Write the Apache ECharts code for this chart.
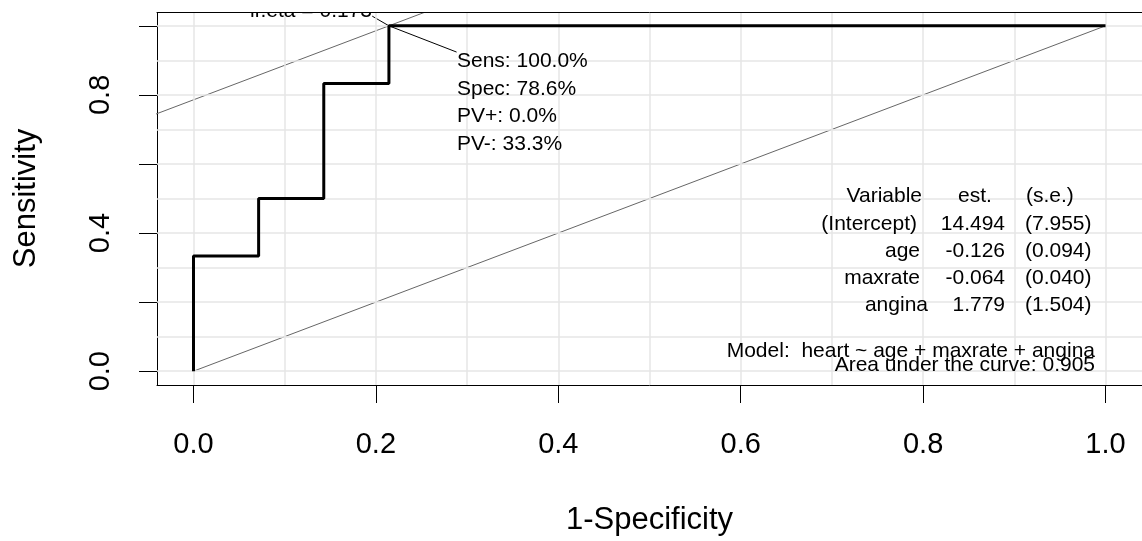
<!DOCTYPE html>
<html>
<head>
<meta charset="utf-8">
<title>ROC</title>
<script src="https://cdn.jsdelivr.net/npm/echarts@6/dist/echarts.min.js"></script>
<style>
html, body { margin: 0; padding: 0; background: #fff; }
#roc { width: 1142px; height: 541px; }
</style>
</head>
<body>
<div id="roc"></div>
<script>
// ROC points (1-specificity, sensitivity)
var fpr = [0, 0, 1/14, 1/14, 2/14, 2/14, 3/14, 3/14, 1];
var sens = [0, 1/3, 1/3, 1/2, 1/2, 5/6, 5/6, 1, 1];
var optimum = [3/14, 1];

var xTicks = [0, 0.2, 0.4, 0.6, 0.8, 1.0];
var yTicks = [0, 0.2, 0.4, 0.6, 0.8, 1.0];
var yTickLabels = [0, 0.4, 0.8];
var gridValues = [0, 0.1, 0.2, 0.3, 0.4, 0.5, 0.6, 0.7, 0.8, 0.9, 1.0];

var etaText = 'lr.eta = 0.173';
var optText = ['Sens: 100.0%', 'Spec: 78.6%', 'PV+: 0.0%', 'PV-: 33.3%'];
var tableHead = ['Variable', 'est.', '(s.e.)'];
var tableVars = ['(Intercept)', 'age', 'maxrate', 'angina'];
var tableEst = ['14.494', '-0.126', '-0.064', '1.779'];
var tableSe = ['(7.955)', '(0.094)', '(0.040)', '(1.504)'];
var modelText = 'Model:  heart ~ age + maxrate + angina';
var aucText = 'Area under the curve: 0.905';

(function () {
  var dom = document.getElementById('roc');
  var myChart = echarts.init(dom);
  var FONT = '"Liberation Sans", Arial, sans-serif';

  // leader line ends (data coords) for the two labels at the optimal point
  var etaEnd = [0.196, 1.028];
  var sensEnd = [0.2885, 0.924];

  var roc = fpr.map(function (x, i) { return [x, sens[i]]; });
  // slope 1 line through the optimum, clipped by the grid
  var c = optimum[1] - optimum[0];
  var tangent = [[-0.2, -0.2 + c], [0.4, 0.4 + c]];

  function txt(s, x, y, align) {
    return {
      type: 'text', x: x, y: y, z: 20,
      style: {
        text: s, font: '21px ' + FONT, fill: '#000',
        textAlign: align, align: align,
        textVerticalAlign: 'middle', verticalAlign: 'middle'
      }
    };
  }

  var graphics = [];
  graphics.push(txt(etaText, 372, 11.7, 'right'));
  // white band above the plot box hides the top of the eta label (R clips it)
  graphics.push({ type: 'rect', x: 0, y: 0, z: 25, shape: { width: 1142, height: 12 }, style: { fill: '#fff' } });

  var optY = [61.7, 89.2, 116.7, 144];
  optText.forEach(function (s, i) { graphics.push(txt(s, 457, optY[i], 'left')); });

  graphics.push(txt(tableHead[0], 922, 196.7, 'right'));
  graphics.push(txt(tableHead[1], 958, 196.7, 'left'));
  graphics.push(txt(tableHead[2], 1026, 196.7, 'left'));
  var rowY = [224.3, 251, 278.3, 305];
  var varX = [917, 920, 920, 928];
  tableVars.forEach(function (s, i) {
    graphics.push(txt(s, varX[i], rowY[i], 'right'));
    graphics.push(txt(tableEst[i], 1005, rowY[i], 'right'));
    graphics.push(txt(tableSe[i], 1025, rowY[i], 'left'));
  });
  graphics.push(txt(modelText, 1095, 351.7, 'right'));
  graphics.push(txt(aucText, 1095, 365, 'right'));

  var axisBase = {
    type: 'value', min: -0.04, max: 1.04,
    axisLine: { show: true, onZero: false, lineStyle: { color: '#000', width: 1 } },
    splitLine: { show: false }
  };

  var option = {
    animation: false,
    backgroundColor: '#fff',
    grid: { left: 157, top: 12, width: 988, height: 375 },
    graphic: graphics,
    xAxis: [
      Object.assign({}, axisBase, {
        position: 'bottom',
        axisTick: { show: true, length: 18, customValues: xTicks, lineStyle: { color: '#000' } },
        axisLabel: {
          customValues: xTicks, margin: 45, color: '#000', fontSize: 29, fontFamily: FONT,
          formatter: function (v) { return v.toFixed(1); }
        },
        name: '1-Specificity', nameLocation: 'middle', nameGap: 120,
        nameTextStyle: { color: '#000', fontSize: 31, fontFamily: FONT }
      }),
      Object.assign({}, axisBase, {
        position: 'top', z: 30,
        axisTick: { show: false }, axisLabel: { show: false }
      })
    ],
    yAxis: [
      Object.assign({}, axisBase, {
        position: 'left',
        axisTick: { show: true, length: 18, customValues: yTicks, lineStyle: { color: '#000' } },
        axisLabel: {
          customValues: yTickLabels, rotate: 90, margin: 42, color: '#000', fontSize: 29, fontFamily: FONT,
          formatter: function (v) { return v.toFixed(1); }
        },
        name: 'Sensitivity', nameLocation: 'middle', nameGap: 115,
        nameTextStyle: { color: '#000', fontSize: 31, fontFamily: FONT }
      }),
      Object.assign({}, axisBase, {
        position: 'right',
        axisTick: { show: false }, axisLabel: { show: false }
      })
    ],
    series: [
      {
        name: 'grid', type: 'line', z: 1, data: [[0, 0]], symbol: 'none',
        lineStyle: { opacity: 0 },
        markLine: {
          silent: true, symbol: 'none', animation: false,
          label: { show: false },
          lineStyle: { color: '#e6e6e6', width: 1.5, type: 'solid' },
          data: gridValues.map(function (v) { return { xAxis: v }; })
            .concat(gridValues.map(function (v) { return { yAxis: v }; }))
        }
      },
      {
        name: 'chance', type: 'line', z: 3, symbol: 'none',
        data: [[0, 0], [1, 1]],
        lineStyle: { color: '#666', width: 1 }
      },
      {
        name: 'tangent', type: 'line', z: 3, symbol: 'none', clip: true,
        data: tangent,
        lineStyle: { color: '#666', width: 1 }
      },
      {
        name: 'leader', type: 'line', z: 4, symbol: 'none', clip: false,
        data: [etaEnd, optimum, sensEnd],
        lineStyle: { color: '#000', width: 1 }
      },
      {
        name: 'ROC', type: 'line', z: 5, symbol: 'none',
        data: roc,
        lineStyle: { color: '#000', width: 3 }
      }
    ]
  };

  if (option && typeof option === 'object') {
    myChart.setOption(option, true);
  }
})();
</script>
</body>
</html>
